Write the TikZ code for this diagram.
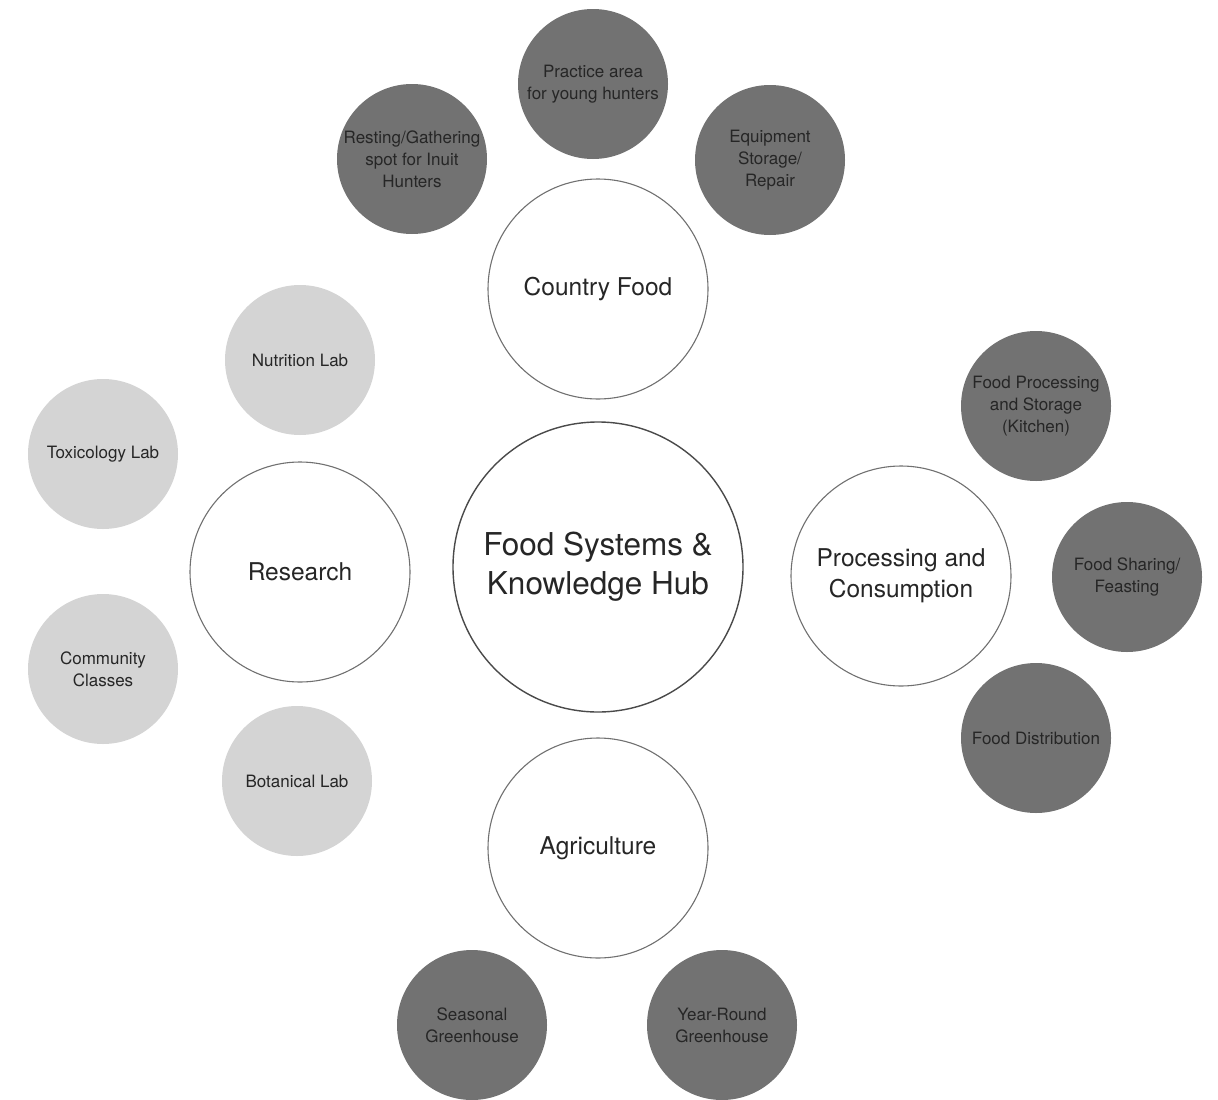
\documentclass[tikz,border=0pt]{standalone}
\usepackage{fontspec}
\setmainfont{TeX Gyre Heros}
\usepackage{xcolor}
\definecolor{hubLine}{HTML}{4A4A4A}
\definecolor{ringLine}{HTML}{707070}
\definecolor{darkFill}{HTML}{727272}
\definecolor{lightFill}{HTML}{D4D4D4}
\definecolor{darkText}{HTML}{262626}
\usepackage{tikz}
\tikzset{
    % Base style for all circles
    bubble base/.style={
        circle,
        align=center,
        text=darkText,
        inner sep=0pt,
    },
    % Central hub - large open circle
    hub/.style={
        bubble base,
        draw=hubLine,
        line width=1.4pt,
        minimum size=290pt,
        font=\fontsize{31.5}{39}\selectfont,
    },
    % Theme circles - open, thin grey outline
    theme/.style={
        bubble base,
        draw=ringLine,
        line width=1.1pt,
        minimum size=220pt,
        font=\fontsize{24.5}{31}\selectfont,
    },
    % Spaces - dark grey disc
    space dark/.style={
        bubble base,
        fill=darkFill,
        minimum size=150pt,
        font=\fontsize{17}{22}\selectfont,
    },
    % Spaces - light grey disc (research)
    space light/.style={
        space dark,
        fill=lightFill,
    },
}

\begin{document}
\begin{tikzpicture}[x=1pt, y=-1pt]
    \useasboundingbox (0,0) rectangle (1218,1100);

    % hub and themes
    \node (hub) [hub] at (598,567) {Food Systems \&\\Knowledge Hub};
    \node (country) [theme] at (598,289) {Country Food};
    \node (research) [theme] at (300,572) {Research};
    \node (processing) [theme] at (901,576) {Processing and\\Consumption};
    \node (agri) [theme] at (598,848) {Agriculture};

    % country food spaces
    \node (resting) [space dark] at (412,159) {Resting/Gathering\\spot for Inuit\\Hunters};
    \node (practice) [space dark] at (593,84) {Practice area\\for young hunters};
    \node (equip) [space dark] at (770,160) {Equipment\\Storage/\\Repair};

    % research spaces
    \node (nutrition) [space light] at (300,360) {Nutrition Lab};
    \node (toxic) [space light] at (103,454) {Toxicology Lab};
    \node (classes) [space light] at (103,669) {Community\\Classes};
    \node (botanical) [space light] at (297,781) {Botanical Lab};

    % processing spaces
    \node (kitchen) [space dark] at (1036,406) {Food Processing\\and Storage\\(Kitchen)};
    \node (sharing) [space dark] at (1127,577) {Food Sharing/\\Feasting};
    \node (distrib) [space dark] at (1036,738) {Food Distribution};

    % agriculture spaces
    \node (seasonal) [space dark] at (472,1025) {Seasonal\\Greenhouse};
    \node (yearround) [space dark] at (722,1025) {Year-Round\\Greenhouse};
\end{tikzpicture}
\end{document}
